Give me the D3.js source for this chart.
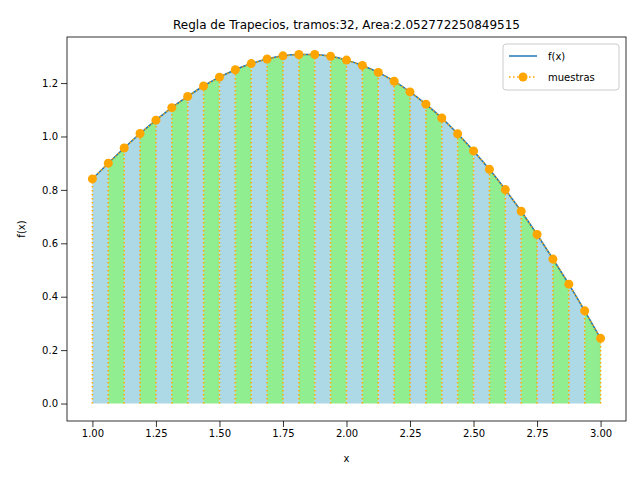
<!DOCTYPE html>
<html><head><meta charset="utf-8">
<script src="https://cdn.jsdelivr.net/npm/d3@7"></script>
<style>body{margin:0;background:#fff}text{font-family:"DejaVu Sans",sans-serif}</style>
</head><body><svg id="c" width="640" height="480"></svg>
<script>
const xs = [1.0,1.0625,1.125,1.1875,1.25,1.3125,1.375,1.4375,1.5,1.5625,1.625,1.6875,1.75,1.8125,1.875,1.9375,2.0,2.0625,2.125,2.1875,2.25,2.3125,2.375,2.4375,2.5,2.5625,2.625,2.6875,2.75,2.8125,2.875,2.9375,3.0];
const ys = [0.841,0.900,0.957,1.011,1.061,1.108,1.150,1.189,1.222,1.250,1.273,1.290,1.302,1.307,1.307,1.300,1.286,1.266,1.240,1.207,1.167,1.121,1.069,1.010,0.946,0.877,0.801,0.720,0.633,0.541,0.447,0.347,0.244];
const xTicks = [1.0,1.25,1.5,1.75,2.0,2.25,2.5,2.75,3.0];
const yTicks = [0.0,0.2,0.4,0.6,0.8,1.0,1.2];
const title = "Regla de Trapecios, tramos:32, Area:2.052772250849515";

const L=67,R=626,T=37,B=421;
const svg=d3.select("#c");
const x=d3.scaleLinear().domain([0.9,3.1]).range([L,R]);
const y=d3.scaleLinear().domain([-0.0654,1.3725]).range([B,T]);
const data=xs.map((v,i)=>[v,ys[i]]);
// trapezoids
for(let i=0;i<data.length-1;i++){
  const a=data[i],b=data[i+1];
  svg.append("path").attr("d",`M${x(a[0])},${y(0)}L${x(a[0])},${y(a[1])}L${x(b[0])},${y(b[1])}L${x(b[0])},${y(0)}Z`)
    .attr("fill",i%2===0?"lightblue":"lightgreen");
}
// dotted verticals
data.forEach(d=>svg.append("line").attr("x1",x(d[0])).attr("x2",x(d[0])).attr("y1",y(0)).attr("y2",y(d[1]))
  .attr("stroke","orange").attr("stroke-width",1.5).attr("stroke-dasharray","1.5,2.5"));
// f(x)
svg.append("path").datum(data).attr("d",d3.line().x(d=>x(d[0])).y(d=>y(d[1])).curve(d3.curveMonotoneX))
  .attr("fill","none").attr("stroke","#1f77b4").attr("stroke-width",1.5);
// dotted sample line
svg.append("path").datum(data).attr("d",d3.line().x(d=>x(d[0])).y(d=>y(d[1])))
  .attr("fill","none").attr("stroke","orange").attr("stroke-width",1.5).attr("stroke-dasharray","1.5,2.5");
svg.selectAll("circle.m").data(data).join("circle").attr("cx",d=>x(d[0])).attr("cy",d=>y(d[1])).attr("r",4.5).attr("fill","orange");
// axes
const ax=svg.append("g").attr("transform",`translate(0,${B})`).call(d3.axisBottom(x).tickValues(xTicks).tickFormat(d3.format(".2f")).tickSizeOuter(0));
const ay=svg.append("g").attr("transform",`translate(${L},0)`).call(d3.axisLeft(y).tickValues(yTicks).tickFormat(d3.format(".1f")).tickSizeOuter(0));
[ax,ay].forEach(g=>{g.select(".domain").remove();g.selectAll("text").attr("font-size",10).attr("fill","#000");g.selectAll("line").attr("stroke","#000").attr("stroke-width",0.8);});
svg.append("rect").attr("x",L).attr("y",T).attr("width",R-L).attr("height",B-T).attr("fill","none").attr("stroke","#000").attr("stroke-width",0.8);
svg.append("text").attr("x",(L+R)/2).attr("y",29).attr("text-anchor","middle").attr("font-size",12).text(title);
svg.append("text").attr("x",(L+R)/2).attr("y",462).attr("text-anchor","middle").attr("font-size",10).text("x");
svg.append("text").attr("transform",`translate(25,${(T+B)/2}) rotate(-90)`).attr("text-anchor","middle").attr("font-size",10).text("f(x)");
// legend
const lg=svg.append("g").attr("transform","translate(503,44)");
lg.append("rect").attr("width",116).attr("height",46).attr("rx",3).attr("fill","#fff").attr("fill-opacity",0.8).attr("stroke","#ccc");
lg.append("line").attr("x1",6).attr("x2",34).attr("y1",12).attr("y2",12).attr("stroke","#1f77b4").attr("stroke-width",1.5);
lg.append("text").attr("x",45).attr("y",16).attr("font-size",10).text("f(x)");
lg.append("line").attr("x1",6).attr("x2",34).attr("y1",33).attr("y2",33).attr("stroke","orange").attr("stroke-width",1.5).attr("stroke-dasharray","1.5,2.5");
lg.append("circle").attr("cx",20).attr("cy",33).attr("r",4.5).attr("fill","orange");
lg.append("text").attr("x",45).attr("y",37).attr("font-size",10).text("muestras");
</script></body></html>
